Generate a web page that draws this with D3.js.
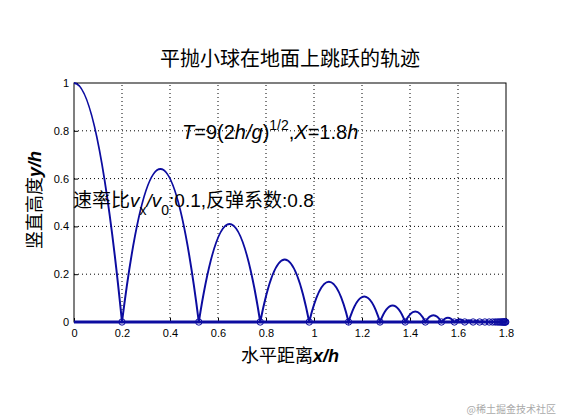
<!DOCTYPE html><html><head><meta charset="utf-8">
<script src="https://cdn.jsdelivr.net/npm/d3@7"></script>
<style>body{margin:0;background:#fff}text{font-family:"Liberation Sans",Arial,sans-serif}</style></head><body>
<svg id="c" width="561" height="420"></svg>
<script>
const bounceX=[0.2,0.52,0.776,0.98,1.144,1.275,1.38,1.464,1.531,1.585,1.628,1.663,1.690,1.712,1.730,1.744,1.755,1.764,1.771,1.777,1.782,1.786,1.789,1.792,1.795,1.797,1.799];
const peakY=[0.64,0.41,0.262,0.168,0.107,0.069,0.044,0.028,0.018,0.012,0.0075,0.0048,0.003,0.002,0.0013,0.0008,0.0005,0.0003,0.0002,0.0001,0.0001,0,0,0,0,0];
const xTicks=[0,0.2,0.4,0.6,0.8,1,1.2,1.4,1.6,1.8];
const yTicks=[0,0.2,0.4,0.6,0.8,1];
const svg=d3.select("#c");
const x=d3.scaleLinear().domain([0,1.8]).range([74,506]);
const y=d3.scaleLinear().domain([0,1]).range([322,83]);
const g=svg.append("g");
g.selectAll(".gx").data(xTicks.slice(1,-1)).join("line").attr("x1",d=>x(d)).attr("x2",d=>x(d)).attr("y1",y(0)).attr("y2",y(1)).attr("stroke","#000").attr("stroke-dasharray","1,3");
g.selectAll(".gy").data(yTicks.slice(1,-1)).join("line").attr("y1",d=>y(d)).attr("y2",d=>y(d)).attr("x1",x(0)).attr("x2",x(1.8)).attr("stroke","#000").attr("stroke-dasharray","1,3");
g.append("rect").attr("x",x(0)).attr("y",y(1)).attr("width",x(1.8)-x(0)).attr("height",y(0)-y(1)).attr("fill","none").attr("stroke","#000");
const ax=d3.axisBottom(x).tickValues(xTicks).tickSize(-4).tickFormat(d3.format("~g"));
const axg=svg.append("g").attr("transform",`translate(0,${y(0)})`).call(ax);
const ay=d3.axisLeft(y).tickValues(yTicks).tickSize(-4).tickFormat(d3.format("~g"));
const ayg=svg.append("g").attr("transform",`translate(${x(0)},0)`).call(ay);
[axg,ayg].forEach(a=>{a.select(".domain").remove();a.selectAll("text").attr("font-size",11).attr("fill","#000").attr("font-family","Liberation Sans");});
axg.selectAll("text").attr("dy","1.1em");
ayg.selectAll("text").attr("dx","-2");
const p=d3.path();
p.moveTo(x(0),y(1));
p.quadraticCurveTo(x(bounceX[0]/2),y(1),x(bounceX[0]),y(0));
for(let i=1;i<bounceX.length;i++){const a=bounceX[i-1],b=bounceX[i],h=peakY[i-1];p.quadraticCurveTo(x((a+b)/2),y(2*h),x(b),y(0));}
svg.append("path").attr("d",p.toString()).attr("fill","none").attr("stroke","#0c0ca0").attr("stroke-width",2);
svg.append("line").attr("x1",x(0)).attr("x2",x(1.8)).attr("y1",y(0)).attr("y2",y(0)).attr("stroke","#0c0ca0").attr("stroke-width",3);
svg.selectAll(".b").data(bounceX).join("circle").attr("cx",d=>x(d)).attr("cy",y(0)).attr("r",3.2).attr("fill","none").attr("stroke","#0c0ca0").attr("stroke-width",1);
const cjk='"Noto Sans CJK SC",sans-serif';
svg.append("text").attr("x",290).attr("y",66).attr("text-anchor","middle").attr("font-size",20).style("font-family",cjk).text("平抛小球在地面上跳跃的轨迹");
const t=svg.append("text").attr("x",182).attr("y",139).attr("font-size",20);
t.append("tspan").attr("font-style","italic").text("T");t.append("tspan").text("=9(2");
t.append("tspan").attr("font-style","italic").text("h/g");t.append("tspan").text(")");
t.append("tspan").attr("font-size",14).attr("dy",-9).text("1/2");t.append("tspan").attr("dy",9).text(",");
t.append("tspan").attr("font-style","italic").text("X");t.append("tspan").text("=1.8");t.append("tspan").attr("font-style","italic").text("h");
const s=svg.append("text").attr("x",73).attr("y",207).attr("font-size",19).style("font-family",cjk);
s.append("tspan").text("速率比");s.append("tspan").attr("font-style","italic").style("font-family","Liberation Sans").text("v");
s.append("tspan").attr("font-size",14).attr("dy",8).style("font-family","Liberation Sans").text("x");
s.append("tspan").attr("dy",-8).attr("font-style","italic").style("font-family","Liberation Sans").text("/v");
s.append("tspan").attr("font-size",14).attr("dy",8).style("font-family","Liberation Sans").text("0");
s.append("tspan").attr("dy",-8).style("font-family","Liberation Sans").text(":0.1,");
s.append("tspan").text("反弹系数");
s.append("tspan").style("font-family","Liberation Sans").text(":0.8");
const xl=svg.append("text").attr("x",290).attr("y",362).attr("text-anchor","middle").attr("font-size",18).style("font-family",cjk);
xl.append("tspan").text("水平距离");xl.append("tspan").attr("font-style","italic").attr("font-weight","bold").style("font-family","Liberation Sans").text("x/h");
const yl=svg.append("text").attr("transform","translate(41,200) rotate(-90)").attr("text-anchor","middle").attr("font-size",18).style("font-family",cjk);
yl.append("tspan").text("竖直高度");yl.append("tspan").attr("font-style","italic").attr("font-weight","bold").style("font-family","Liberation Sans").text("y/h");
svg.append("text").attr("x",556).attr("y",413).attr("text-anchor","end").attr("font-size",10).attr("fill","#aaa").style("font-family",cjk).text("@稀土掘金技术社区");
</script></body></html>
